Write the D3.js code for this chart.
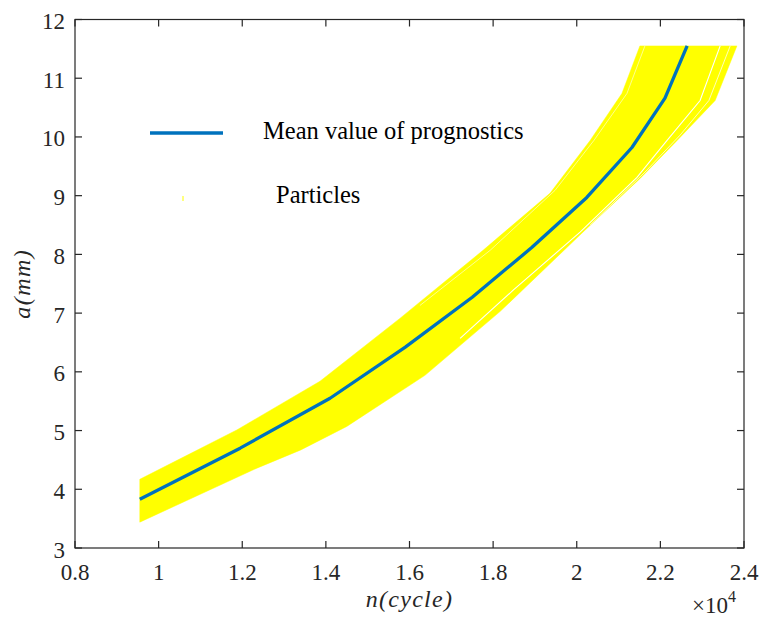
<!DOCTYPE html>
<html>
<head>
<meta charset="utf-8">
<script src="https://cdn.jsdelivr.net/npm/d3@7"></script>
<style>
  body { margin: 0; background: #fff; }
  svg { display: block; }
</style>
</head>
<body>
<div id="chart"></div>
<script>
var width = 763, height = 617;
var serif = "'Liberation Serif', 'DejaVu Serif', 'Noto Serif', serif";

// tick values (x in units of 1e4 cycles)
var xTicks = [0.8, 1, 1.2, 1.4, 1.6, 1.8, 2, 2.2, 2.4];
var yTicks = [3, 4, 5, 6, 7, 8, 9, 10, 11, 12];

// mean value of prognostics
var meanX = [0.955, 1.195, 1.41, 1.59, 1.75, 1.893, 2.024, 2.132, 2.211, 2.264];
var meanY = [3.83, 4.70, 5.55, 6.42, 7.27, 8.12, 8.97, 9.82, 10.66, 11.55];

// particle cloud envelope (upper/left and lower/right particles)
var upperX = [0.955, 1.187, 1.386, 1.577, 1.776, 1.936, 2.032, 2.108, 2.151];
var upperY = [4.17, 5.01, 5.84, 6.91, 8.07, 9.04, 9.94, 10.74, 11.55];
var lowerX = [0.955, 1.235, 1.34, 1.45, 1.637, 1.817, 2.015, 2.151, 2.240, 2.331, 2.383];
var lowerY = [3.44, 4.36, 4.67, 5.07, 5.94, 7.03, 8.38, 9.29, 9.94, 10.62, 11.55];

// visible gaps between particle trajectories
var gapAX = [2.343, 2.295, 2.216, 2.144, 2.008, 1.848, 1.721];
var gapAY = [11.55, 10.62, 9.94, 9.31, 8.38, 7.39, 6.57];
var gapBX = [2.163, 2.120, 2.041, 1.948, 1.793, 1.625];
var gapBY = [11.55, 10.74, 9.94, 9.09, 8.07, 7.13];
var gapCX = [2.367, 2.316, 2.247, 2.163, 2.032];
var gapCY = [11.55, 10.62, 10.03, 9.40, 8.50];

var margin = {left: 75, right: 19, top: 19.5, bottom: 69};

var x = d3.scaleLinear().domain([0.8, 2.4]).range([margin.left, width - margin.right]);
var y = d3.scaleLinear().domain([3, 12]).range([height - margin.bottom, margin.top]);

var svg = d3.select("#chart").append("svg").attr("width", width).attr("height", height);

var zip = function(xs, ys) {
    return xs.map(function(v, i) { return [v, ys[i]]; });
};

var line = d3.line().x(function(d) { return x(d[0]); }).y(function(d) { return y(d[1]); });

// particles band
var band = zip(upperX, upperY).concat(zip(lowerX, lowerY).reverse());
svg.append("path").attr("d", line(band) + "Z").attr("fill", "#ffff00").attr("stroke", "#ffff00").attr("stroke-width", 0.5);

[[gapAX, gapAY, 1.1, 1], [gapBX, gapBY, 0.7, 0.8], [gapCX, gapCY, 0.8, 0.9]].forEach(function(g) {
    svg.append("path").attr("d", line(zip(g[0], g[1])))
        .attr("fill", "none").attr("stroke", "#fff")
        .attr("stroke-width", g[2]).attr("stroke-opacity", g[3]);
});

// mean line
svg.append("path").attr("d", line(zip(meanX, meanY)))
    .attr("fill", "none").attr("stroke", "#0072bd").attr("stroke-width", 3.3)
    .attr("stroke-linejoin", "round");

// axes box
var x0 = x(0.8), x1 = x(2.4), y0 = y(3), y1 = y(12);
var axisColor = "#262626", tickLen = 7;
var g = svg.append("g").attr("stroke", axisColor).attr("stroke-width", 1.2).attr("fill", "none");
g.append("rect").attr("x", x0).attr("y", y1).attr("width", x1 - x0).attr("height", y0 - y1);

xTicks.forEach(function(t) {
    g.append("line").attr("x1", x(t)).attr("x2", x(t)).attr("y1", y0).attr("y2", y0 - tickLen);
    g.append("line").attr("x1", x(t)).attr("x2", x(t)).attr("y1", y1).attr("y2", y1 + tickLen);
    svg.append("text").attr("x", x(t)).attr("y", y0 + 32).attr("text-anchor", "middle")
        .attr("font-family", serif).attr("fill", axisColor).attr("font-size", 23).text(t);
});
yTicks.forEach(function(t) {
    g.append("line").attr("x1", x0).attr("x2", x0 + tickLen).attr("y1", y(t)).attr("y2", y(t));
    g.append("line").attr("x1", x1).attr("x2", x1 - tickLen).attr("y1", y(t)).attr("y2", y(t));
    svg.append("text").attr("x", x0 - 10).attr("y", y(t) + 9.5).attr("text-anchor", "end")
        .attr("font-family", serif).attr("fill", axisColor).attr("font-size", 23).text(t);
});

// axis labels
svg.append("text").attr("x", (x0 + x1) / 2).attr("y", 607).attr("text-anchor", "middle")
    .attr("font-family", serif).attr("fill", axisColor).attr("letter-spacing", 1.3)
    .attr("font-size", 24).attr("font-style", "italic").text("n(cycle)");
svg.append("text").attr("transform", "translate(30," + ((y0 + y1) / 2) + ") rotate(-90)")
    .attr("text-anchor", "middle").attr("font-family", serif).attr("fill", axisColor)
    .attr("letter-spacing", 1.5)
    .attr("font-size", 24).attr("font-style", "italic").text("a(mm)");

// exponent
var ex = svg.append("text").attr("x", 692).attr("y", 613).attr("font-size", 23)
    .attr("font-family", serif).attr("fill", axisColor);
ex.append("tspan").text("\u00d710");
ex.append("tspan").attr("font-size", 16).attr("dy", -11).text("4");

// legend
svg.append("line").attr("x1", 150).attr("x2", 223).attr("y1", 133).attr("y2", 133)
    .attr("stroke", "#0072bd").attr("stroke-width", 3.3);
svg.append("text").attr("x", 263).attr("y", 139).attr("font-size", 24.5).attr("fill", "#000")
    .attr("font-family", serif).text("Mean value of prognostics");
svg.append("line").attr("x1", 183).attr("x2", 183).attr("y1", 196).attr("y2", 201)
    .attr("stroke", "#ffff00").attr("stroke-width", 1);
svg.append("text").attr("x", 276).attr("y", 203).attr("font-size", 24.5).attr("fill", "#000")
    .attr("font-family", serif).text("Particles");
</script>
</body>
</html>
